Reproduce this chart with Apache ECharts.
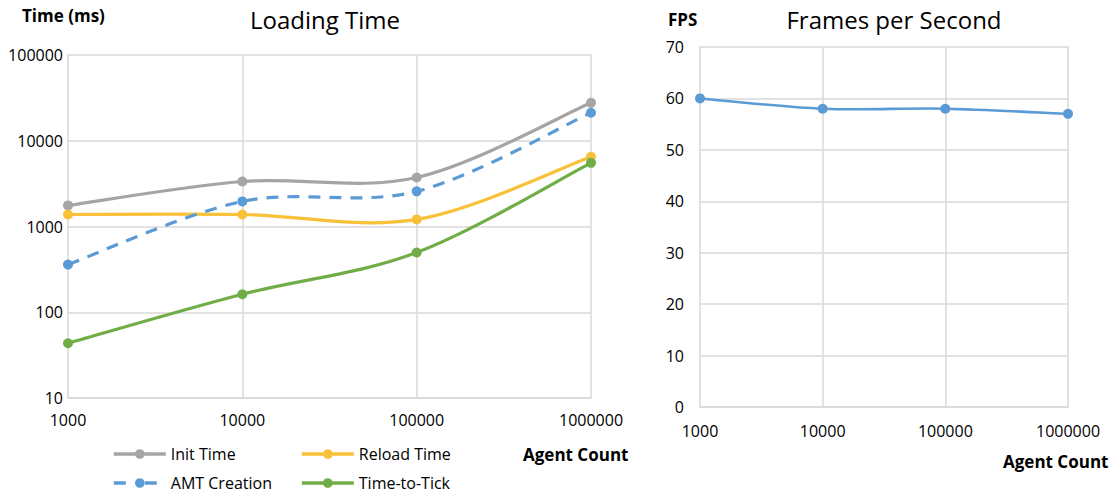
<!DOCTYPE html>
<html>
<head>
<meta charset="utf-8">
<title>Loading Time and Frames per Second</title>
<script src="https://cdn.jsdelivr.net/npm/echarts@6/dist/echarts.min.js"></script>
<style>
  html, body { margin: 0; padding: 0; background: #ffffff; }
  #chart { width: 1115px; height: 496px; }
</style>
</head>
<body>
<div id="chart"></div>
<script>
// Agent counts shared by both panels
const agentCounts = ['1000', '10000', '100000', '1000000'];

// Loading time in milliseconds (log scale)
const initTime = [1760, 3350, 3730, 27700];
const reloadTime = [1380, 1380, 1210, 6500];
const amtCreation = [360, 1960, 2570, 21200];
const timeToTick = [43.5, 162, 497, 5530];

// Frames per second
const fps = [60, 58, 58, 57];

const FONT = '"Open Sans", "Liberation Sans", sans-serif';
const GRID_COLOR = '#d9d9d9';
const DASH = [12, 9];

const colors = {
  init: '#a5a5a5',
  reload: '#f9c03a',
  amt: '#5b9bd5',
  tick: '#70ad47',
  fps: '#5b9bd5'
};

// Cardinal (Catmull-Rom) spline through pixel points, allowing overshoot between markers
function splinePath(pts) {
  const f = (n) => n.toFixed(2);
  let d = 'M' + f(pts[0][0]) + ' ' + f(pts[0][1]);
  for (let i = 0; i < pts.length - 1; i++) {
    const p0 = pts[Math.max(i - 1, 0)];
    const p1 = pts[i];
    const p2 = pts[i + 1];
    const p3 = pts[Math.min(i + 2, pts.length - 1)];
    const c1x = p1[0] + (p2[0] - p0[0]) / 6;
    const c1y = p1[1] + (p2[1] - p0[1]) / 6;
    const c2x = p2[0] - (p3[0] - p1[0]) / 6;
    const c2y = p2[1] - (p3[1] - p1[1]) / 6;
    d += ' C' + f(c1x) + ' ' + f(c1y) + ' ' + f(c2x) + ' ' + f(c2y) + ' ' + f(p2[0]) + ' ' + f(p2[1]);
  }
  return d;
}

// Markers (and legend entry) for a data series; the stroke is drawn by curveSeries
function markerSeries(name, data, color, dashed, axis, width) {
  return {
    name: name,
    type: 'line',
    xAxisIndex: axis,
    yAxisIndex: axis,
    data: data,
    symbol: 'circle',
    symbolSize: 10,
    lineStyle: { width: width, color: color, type: dashed ? DASH : 'solid', opacity: 0 },
    itemStyle: { color: color },
    z: 4
  };
}

function curveSeries(name, data, color, dashed, axis, width) {
  return {
    name: name + ' curve',
    type: 'custom',
    xAxisIndex: axis,
    yAxisIndex: axis,
    data: data.map((v, i) => [i, v]),
    encode: { x: 0, y: 1 },
    silent: true,
    z: 3,
    renderItem: function (params, api) {
      if (params.dataIndex !== 0) return null;
      const pts = data.map((v, i) => api.coord([i, v]));
      return {
        type: 'path',
        shape: { pathData: splinePath(pts) },
        style: {
          fill: 'none',
          stroke: color,
          lineWidth: width,
          lineDash: dashed ? DASH : null,
          lineCap: 'butt',
          lineJoin: 'round'
        }
      };
    }
  };
}

function legendFor(name, left, top, dashPattern) {
  return {
    data: [name],
    left: left,
    top: top,
    padding: 0,
    itemWidth: 52,
    itemHeight: 12,
    itemGap: 0,
    lineStyle: dashPattern
      ? { opacity: 1, width: 3.6, type: dashPattern }
      : { opacity: 1, width: 3.6 },
    textStyle: { fontFamily: FONT, fontSize: 16, color: '#000' },
    selectedMode: false
  };
}

const boldText = 'bold 17px ' + FONT;

const chart = echarts.init(document.getElementById('chart'), null, { renderer: 'svg' });

chart.setOption({
  animation: false,
  backgroundColor: '#ffffff',
  title: [
    { text: 'Loading Time', left: 320, top: 2, textAlign: 'center',
      textStyle: { fontFamily: FONT, fontSize: 24, fontWeight: 'normal', color: '#000' } },
    { text: 'Frames per Second', left: 889, top: 2, textAlign: 'center',
      textStyle: { fontFamily: FONT, fontSize: 24, fontWeight: 'normal', color: '#000' } }
  ],
  legend: [
    legendFor('Init Time', 112, 446),
    legendFor('Reload Time', 300, 446),
    legendFor('AMT Creation', 112, 475, [12, 19]),
    legendFor('Time-to-Tick', 300, 475)
  ],
  graphic: [
    { type: 'text', left: 22, top: 7, style: { text: 'Time (ms)', font: boldText, fill: '#000' } },
    { type: 'text', left: 523, top: 446, style: { text: 'Agent Count', font: boldText, fill: '#000' } },
    { type: 'text', left: 668, top: 11, style: { text: 'FPS', font: boldText, fill: '#000' } },
    { type: 'text', left: 1003, top: 453, style: { text: 'Agent Count', font: boldText, fill: '#000' } }
  ],
  grid: [
    { left: 68, top: 55, width: 523, height: 343, containLabel: false },
    { left: 700, top: 47, width: 368, height: 360, containLabel: false }
  ],
  xAxis: [
    {
      type: 'category', gridIndex: 0, data: agentCounts, boundaryGap: false,
      axisLine: { show: true, lineStyle: { color: GRID_COLOR, width: 1.5 } },
      axisTick: { show: false },
      axisLabel: { fontFamily: FONT, fontSize: 16, color: '#000', margin: 14 },
      splitLine: { show: true, lineStyle: { color: GRID_COLOR, width: 1.5 } }
    },
    {
      type: 'category', gridIndex: 1, data: agentCounts, boundaryGap: false,
      axisLine: { show: true, lineStyle: { color: GRID_COLOR, width: 1.5 } },
      axisTick: { show: false },
      axisLabel: { fontFamily: FONT, fontSize: 16, color: '#000', margin: 16 },
      splitLine: { show: true, lineStyle: { color: GRID_COLOR, width: 1.5 } }
    }
  ],
  yAxis: [
    {
      type: 'log', gridIndex: 0, logBase: 10, min: 10, max: 100000,
      axisLine: { show: false },
      axisTick: { show: false },
      axisLabel: {
        fontFamily: FONT, fontSize: 16, color: '#000', margin: 5,
        formatter: function (v) { return String(Math.round(v)); }
      },
      splitLine: { show: true, lineStyle: { color: GRID_COLOR, width: 1.5 } }
    },
    {
      type: 'value', gridIndex: 1, min: 0, max: 70, interval: 10,
      axisLine: { show: false },
      axisTick: { show: false },
      axisLabel: { fontFamily: FONT, fontSize: 16, color: '#000', margin: 16 },
      splitLine: { show: true, lineStyle: { color: GRID_COLOR, width: 1.5 } }
    }
  ],
  series: [
    markerSeries('Init Time', initTime, colors.init, false, 0, 3.2),
    markerSeries('Reload Time', reloadTime, colors.reload, false, 0, 3.2),
    markerSeries('AMT Creation', amtCreation, colors.amt, true, 0, 3.2),
    markerSeries('Time-to-Tick', timeToTick, colors.tick, false, 0, 3.2),
    markerSeries('FPS', fps, colors.fps, false, 1, 2.6),
    curveSeries('Init Time', initTime, colors.init, false, 0, 3.2),
    curveSeries('Reload Time', reloadTime, colors.reload, false, 0, 3.2),
    curveSeries('AMT Creation', amtCreation, colors.amt, true, 0, 3.2),
    curveSeries('Time-to-Tick', timeToTick, colors.tick, false, 0, 3.2),
    curveSeries('FPS', fps, colors.fps, false, 1, 2.6)
  ]
});
</script>
</body>
</html>
